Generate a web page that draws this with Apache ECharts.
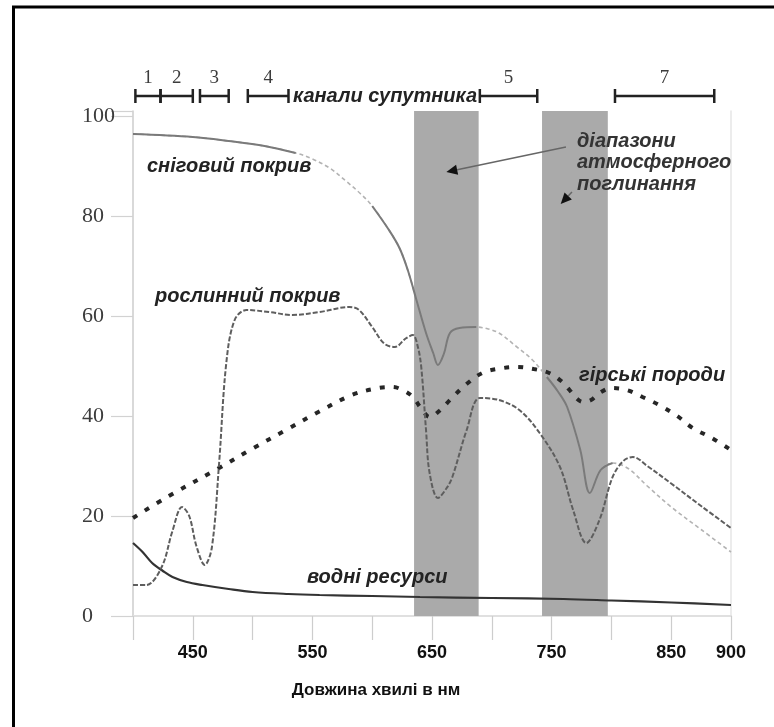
<!DOCTYPE html>
<html>
<head>
<meta charset="utf-8">
<script src="https://cdn.jsdelivr.net/npm/echarts@6/dist/echarts.min.js"></script>
<style>
  html, body { margin: 0; padding: 0; background: #fff; }
  #chart { width: 774px; height: 727px; }
</style>
</head>
<body>
<div id="chart"></div>
<script>
// Spectral reflectance (%) of surface types versus wavelength (nm)
const snowNm    = [400, 450, 480, 510, 536, 550, 565, 578, 590, 600, 614, 623, 630, 637, 645, 651, 655, 660, 665, 673, 687, 697, 706, 720, 734, 746, 755, 763, 774, 782, 791, 801, 814, 830, 850, 875, 900];
const snowVal   = [96.4, 95.8, 95, 94, 92.6, 91.4, 89.5, 87, 84.5, 82, 77.2, 73.5, 69, 63.2, 56.6, 52.6, 50.2, 52.5, 56.6, 57.6, 57.8, 57.4, 56.6, 54, 51.2, 47.8, 45, 41.8, 33.2, 24.6, 29.2, 30.6, 29.5, 26, 21.8, 17.3, 12.8];
// wavelength ranges where the snow curve is drawn solid
const snowSolidFrom = [400, 600, 746];
const snowSolidTo   = [536, 687, 801];

const vegNm  = [400, 411, 424, 433, 441, 447, 453, 460, 466, 472, 478, 485, 495, 514, 533, 556, 581, 589, 600, 610, 619, 628, 634, 638, 641, 645, 648, 655, 662, 667, 679, 690, 706, 723, 740, 757, 768, 779, 790, 801, 810, 818, 830, 850, 875, 900];
const vegVal = [6.2, 6.2, 9.8, 17, 21.8, 20, 14, 10.2, 13.8, 30.6, 50.6, 59.2, 61.2, 60.8, 60.2, 60.8, 61.8, 61.2, 57.8, 54.5, 53.8, 55.5, 56.2, 54, 49.8, 37.2, 28.6, 23.6, 25.5, 27.8, 37.2, 43.6, 43.2, 41.2, 36.6, 29.8, 21.2, 14.6, 19.2, 27.8, 31, 31.8, 30, 26.5, 22, 17.6];

const rockNm  = [400, 430, 472, 500, 528, 555, 583, 605, 617, 627, 634, 641, 648, 656, 665, 678, 692, 707, 721, 735, 748, 758, 765, 771, 776, 783, 790, 800, 813, 826, 840, 855, 868, 884, 900];
const rockVal = [19.6, 24, 29.6, 33.5, 37.2, 40.8, 44.2, 45.6, 45.8, 45, 43.8, 41.5, 39.8, 41, 43.2, 46.2, 48.6, 49.5, 49.8, 49.4, 48.6, 47, 45.2, 43.5, 42.8, 43.2, 44.6, 45.6, 45.2, 43.8, 42.2, 40, 37.6, 35.6, 33.2];

const waterNm  = [400, 408, 416, 425, 433, 445, 458, 480, 500, 530, 556, 600, 640, 700, 760, 800, 850, 900];
const waterVal = [14.6, 12.8, 10.6, 9, 7.8, 6.8, 6.2, 5.4, 4.8, 4.4, 4.2, 4, 3.8, 3.6, 3.4, 3.1, 2.7, 2.2];

// atmospheric absorption bands (nm)
const bandFrom = [635, 742];
const bandTo   = [689, 797];

// satellite channels (nm)
const channelName  = ['1', '2', '3', '4', '5', '7'];
const channelFrom  = [402, 423, 456, 496, 690, 803];
const channelTo    = [423, 450, 480, 530, 738, 886];
const channelLevel = 104;

// arrows from the absorption caption into the bands: [fromNm, fromVal, toNm, toVal]
const arrowFromNm  = [762, 767];
const arrowFromVal = [93.8, 84.8];
const arrowToNm    = [662, 757.6];
const arrowToVal   = [88.8, 82.4];

// axis tick labels
const xTickLabels = [450, 550, 650, 750, 850, 900];
const yTickLabels = [0, 20, 40, 60, 80, 100];

const pairs = (xs, ys) => xs.map((x, i) => [x, ys[i]]);
const inSolid = x => snowSolidFrom.some((f, i) => x >= f && x <= snowSolidTo[i]);

const labelFont = 'bold italic 20px "Liberation Sans", Arial, sans-serif';
const labelColor = '#232323';

const chart = echarts.init(document.getElementById('chart'), null, { renderer: 'canvas' });

const option = {
  backgroundColor: '#ffffff',
  animation: false,
  grid: { left: 133, right: 43, top: 111, bottom: 111, containLabel: false },
  xAxis: [
    {
      type: 'value', min: 400, max: 900, interval: 50, position: 'bottom',
      axisLine: { show: true, lineStyle: { color: '#cdcdcd', width: 1.5 } },
      axisTick: { show: true, length: 24, lineStyle: { color: '#cdcdcd', width: 1.2 } },
      splitLine: { show: false },
      axisLabel: {
        margin: 28, color: '#111',
        fontFamily: '"Liberation Sans", Arial, sans-serif', fontWeight: 'bold', fontSize: 18,
        formatter: v => (xTickLabels.indexOf(v) >= 0 ? String(v) : '')
      },
      name: 'Довжина хвилі в нм', nameLocation: 'middle', nameGap: 66,
      nameTextStyle: { color: '#111', fontFamily: '"Liberation Sans", Arial, sans-serif', fontWeight: 'bold', fontSize: 17,
                       padding: [0, 112, 0, 0] }
    },
    {
      type: 'value', min: 400, max: 900, position: 'top',
      axisLine: { show: true, lineStyle: { color: '#e2e2e2', width: 1.5 } },
      axisTick: { show: false }, axisLabel: { show: false }, splitLine: { show: false }
    }
  ],
  yAxis: [
    {
      type: 'value', min: 0, max: 101, interval: 20, position: 'left',
      axisLine: { show: true, lineStyle: { color: '#cdcdcd', width: 1.5 } },
      axisTick: { show: true, length: 22, lineStyle: { color: '#d2d2d2', width: 1.2 } },
      splitLine: { show: false },
      axisLabel: {
        margin: 51, align: 'left', color: '#3c3c3c',
        fontFamily: '"Liberation Serif", "Times New Roman", serif', fontSize: 22,
        formatter: v => (yTickLabels.indexOf(v) >= 0 ? String(v) : '')
      }
    },
    {
      type: 'value', min: 0, max: 101, position: 'right',
      axisLine: { show: true, lineStyle: { color: '#e6e6e6', width: 1.5 } },
      axisTick: { show: false }, axisLabel: { show: false }, splitLine: { show: false }
    }
  ],
  series: [
    {
      // absorption bands
      type: 'custom', z: 1, silent: true,
      data: bandFrom.map((f, i) => [f, bandTo[i]]),
      encode: { x: [0, 1] },
      renderItem: (params, api) => {
        const p0 = api.coord([api.value(0), 101]);
        const p1 = api.coord([api.value(1), 0]);
        return { type: 'rect', shape: { x: p0[0], y: p0[1], width: p1[0] - p0[0], height: p1[1] - p0[1] },
                 style: { fill: '#aaaaaa' } };
      }
    },
    {
      name: 'водні ресурси', type: 'line', z: 3, smooth: 0.35, showSymbol: false,
      data: pairs(waterNm, waterVal),
      lineStyle: { color: '#333', width: 2.2 }
    },
    {
      name: 'гірські породи', type: 'line', z: 3, smooth: 0.35, showSymbol: false,
      data: pairs(rockNm, rockVal),
      lineStyle: { color: '#262626', width: 4, type: [5, 9] }
    },
    {
      name: 'сніговий покрив (пунктир)', type: 'line', z: 3, smooth: 0.35, showSymbol: false,
      data: pairs(snowNm, snowVal),
      lineStyle: { color: '#b3b3b3', width: 1.6, type: [4, 3] }
    },
    {
      name: 'сніговий покрив', type: 'line', z: 4, smooth: 0.35, showSymbol: false, connectNulls: false,
      data: snowNm.map((x, i) => [x, inSolid(x) ? snowVal[i] : null]),
      lineStyle: { color: '#7a7a7a', width: 2 }
    },
    {
      name: 'рослинний покрив', type: 'line', z: 4, smooth: 0.35, showSymbol: false,
      data: pairs(vegNm, vegVal),
      lineStyle: { color: '#5e5e5e', width: 2, type: [5, 2] }
    },
    {
      // satellite channel bars above the plot
      type: 'custom', z: 5, silent: true, clip: false,
      data: channelFrom.map((f, i) => [f, channelTo[i], channelLevel, channelName[i]]),
      encode: { x: [0, 1], y: 2 },
      renderItem: (params, api) => {
        const s = api.coord([api.value(0), api.value(2)]);
        const e = api.coord([api.value(1), api.value(2)]);
        const cap = 7;
        const ls = { stroke: '#222', lineWidth: 2.5 };
        return {
          type: 'group',
          children: [
            { type: 'line', shape: { x1: s[0], y1: s[1], x2: e[0], y2: e[1] }, style: ls },
            { type: 'line', shape: { x1: s[0], y1: s[1] - cap, x2: s[0], y2: s[1] + cap }, style: ls },
            { type: 'line', shape: { x1: e[0], y1: e[1] - cap, x2: e[0], y2: e[1] + cap }, style: ls },
            { type: 'text', style: { text: channelName[params.dataIndex], x: (s[0] + e[0]) / 2, y: s[1] - 8,
                align: 'center', verticalAlign: 'bottom',
                font: '19px "Liberation Serif", "Times New Roman", serif', fill: '#3c3c3c' } }
          ]
        };
      }
    },
    {
      // arrows pointing into the absorption bands
      type: 'custom', z: 6, silent: true, clip: false,
      data: arrowFromNm.map((x, i) => [x, arrowFromVal[i], arrowToNm[i], arrowToVal[i]]),
      encode: { x: [0, 2], y: [1, 3] },
      renderItem: (params, api) => {
        const a = api.coord([api.value(0), api.value(1)]);
        const b = api.coord([api.value(2), api.value(3)]);
        const dx = b[0] - a[0], dy = b[1] - a[1];
        const len = Math.sqrt(dx * dx + dy * dy);
        const ux = dx / len, uy = dy / len;
        const hl = 11, hw = 5;
        const bx = b[0] - ux * hl, by = b[1] - uy * hl;
        return {
          type: 'group',
          children: [
            { type: 'line', shape: { x1: a[0], y1: a[1], x2: bx, y2: by }, style: { stroke: '#666', lineWidth: 1.5 } },
            { type: 'polygon', shape: { points: [[b[0], b[1]], [bx - uy * hw, by + ux * hw], [bx + uy * hw, by - ux * hw]] },
              style: { fill: '#111' } }
          ]
        };
      }
    }
  ],
  graphic: [
    { type: 'line', z: 100, shape: { x1: 13.5, y1: 6, x2: 13.5, y2: 727 }, style: { stroke: '#000', lineWidth: 3 } },
    { type: 'line', z: 100, shape: { x1: 12, y1: 7, x2: 774, y2: 7 }, style: { stroke: '#000', lineWidth: 3 } },
    { type: 'text', z: 100, style: { text: 'сніговий покрив', x: 147, y: 166, verticalAlign: 'middle', font: labelFont, fill: labelColor } },
    { type: 'text', z: 100, style: { text: 'рослинний покрив', x: 155, y: 296, verticalAlign: 'middle', font: labelFont, fill: labelColor } },
    { type: 'text', z: 100, style: { text: 'гірські породи', x: 579, y: 375, verticalAlign: 'middle', font: labelFont, fill: labelColor } },
    { type: 'text', z: 100, style: { text: 'водні ресурси', x: 307, y: 577, verticalAlign: 'middle', font: labelFont, fill: labelColor } },
    { type: 'text', z: 100, style: { text: 'канали супутника', x: 293, y: 96, verticalAlign: 'middle', font: labelFont, fill: labelColor } },
    { type: 'text', z: 100, style: { text: 'діапазони', x: 577, y: 141, verticalAlign: 'middle', font: labelFont, fill: '#333' } },
    { type: 'text', z: 100, style: { text: 'атмосферного', x: 577, y: 162, verticalAlign: 'middle', font: labelFont, fill: '#333' } },
    { type: 'text', z: 100, style: { text: 'поглинання', x: 577, y: 184, verticalAlign: 'middle', font: labelFont, fill: '#333' } }
  ]
};

chart.setOption(option);
</script>
</body>
</html>
